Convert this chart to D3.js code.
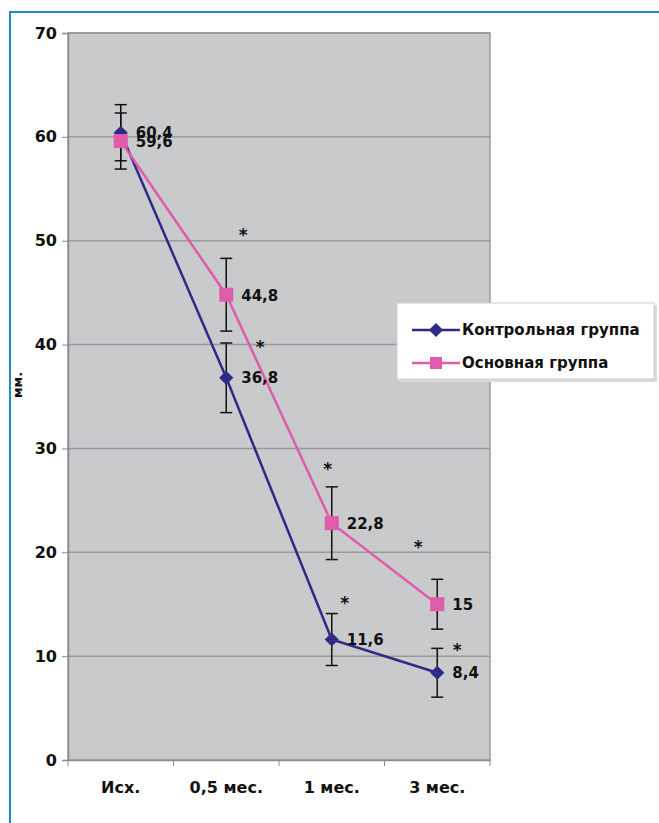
<!DOCTYPE html>
<html>
<head>
<meta charset="utf-8">
<script src="https://cdn.jsdelivr.net/npm/d3@7"></script>
<style>
  * { margin: 0; padding: 0; }
  body { background: #fff; width: 659px; height: 823px; overflow: hidden; }
  svg text { font-family: "DejaVu Sans", sans-serif; font-weight: bold; fill: #111; }
</style>
</head>
<body>
<div id="chart"></div>
<script>
// Categories and series values
const categories = ['Исх.', '0,5 мес.', '1 мес.', '3 мес.'];
const controlValues = [60.4, 36.8, 11.6, 8.4];
const controlErrors = [2.7, 3.35, 2.5, 2.35];
const mainValues = [59.6, 44.8, 22.8, 15];
const mainErrors = [2.7, 3.5, 3.5, 2.4];
const controlLabels = ['60,4', '36,8', '11,6', '8,4'];
const mainLabels = ['59,6', '44,8', '22,8', '15'];
const yTicks = [0, 10, 20, 30, 40, 50, 60, 70];
// significance marks: category index and level (in mm)
const starMain = [[1, 50.8], [2, 28.3], [3, 20.8]];
const starControl = [[1, 40.1], [2, 15.4], [3, 10.9]];
const seriesNames = ['Контрольная группа', 'Основная группа'];

const width = 659, height = 823;
const plotLeft = 68, plotRight = 490, plotTop = 33, plotBottom = 760;
const navy = '#2e2b86', pink = '#df5cab';

const svg = d3.select('#chart').append('svg')
    .attr('width', width)
    .attr('height', height);

// blue frame
svg.append('rect')
    .attr('x', 10).attr('y', 12)
    .attr('width', 720).attr('height', 900)
    .attr('fill', 'none')
    .attr('stroke', '#1b8ecf')
    .attr('stroke-width', 2);

const x = d3.scaleBand().domain(categories).range([plotLeft, plotRight]);
const y = d3.scaleLinear().domain([0, 70]).range([plotBottom, plotTop]);
const cx = i => x(categories[i]) + x.bandwidth() / 2;

// plot background
svg.append('rect')
    .attr('x', plotLeft).attr('y', plotTop)
    .attr('width', plotRight - plotLeft).attr('height', plotBottom - plotTop)
    .attr('fill', '#c9cacc')
    .attr('stroke', '#9a9b9d')
    .attr('stroke-width', 1.5);

// grid
svg.append('g')
    .selectAll('line')
    .data(yTicks.filter(d => d > 0))
    .enter().append('line')
    .attr('x1', plotLeft).attr('x2', plotRight)
    .attr('y1', d => y(d)).attr('y2', d => y(d))
    .attr('stroke', '#98999b')
    .attr('stroke-width', 1.5);

// y axis
const yAxis = d3.axisLeft(y).tickValues(yTicks).tickSize(6).tickPadding(5);
const yg = svg.append('g')
    .attr('transform', 'translate(' + plotLeft + ',0)')
    .call(yAxis);
yg.select('.domain').attr('stroke', '#8a8b8d').attr('stroke-width', 1.5);
yg.selectAll('.tick line').attr('stroke', '#8a8b8d');
yg.selectAll('.tick text').style('font-size', '16px').style('font-family', '"DejaVu Sans", sans-serif').attr('fill', '#111');

// x axis
const xAxis = d3.axisBottom(x).tickSize(0).tickPadding(22);
const xg = svg.append('g')
    .attr('transform', 'translate(0,' + plotBottom + ')')
    .call(xAxis);
xg.select('.domain').attr('stroke', '#8a8b8d').attr('stroke-width', 1.5);
xg.selectAll('.tick text').style('font-size', '16px').style('font-family', '"DejaVu Sans", sans-serif').attr('fill', '#111');
xg.selectAll('.sep')
    .data(d3.range(categories.length + 1))
    .enter().append('line')
    .attr('x1', i => plotLeft + i * x.bandwidth())
    .attr('x2', i => plotLeft + i * x.bandwidth())
    .attr('y1', 0).attr('y2', 6)
    .attr('stroke', '#8a8b8d');

// y title
svg.append('text')
    .attr('transform', 'translate(22,' + 385 + ') rotate(-90)')
    .attr('text-anchor', 'middle')
    .style('font-size', '13px')
    .text('мм.');

function errorBars(values, errors) {
    const g = svg.append('g').attr('stroke', '#111').attr('stroke-width', 1.5);
    values.forEach(function(v, i) {
        const xc = cx(i);
        g.append('line').attr('x1', xc).attr('x2', xc)
            .attr('y1', y(v + errors[i])).attr('y2', y(v - errors[i]));
        [v + errors[i], v - errors[i]].forEach(function(e) {
            g.append('line').attr('x1', xc - 6).attr('x2', xc + 6)
                .attr('y1', y(e)).attr('y2', y(e));
        });
    });
}
errorBars(controlValues, controlErrors);
errorBars(mainValues, mainErrors);

const line = d3.line().x((d, i) => cx(i)).y(d => y(d));

svg.append('path').datum(controlValues)
    .attr('d', line).attr('fill', 'none')
    .attr('stroke', navy).attr('stroke-width', 2.5);
svg.append('path').datum(mainValues)
    .attr('d', line).attr('fill', 'none')
    .attr('stroke', pink).attr('stroke-width', 2.5);

const diamond = d3.symbol().type(d3.symbolSquare).size(100);
svg.selectAll('.ctrl')
    .data(controlValues)
    .enter().append('path')
    .attr('d', diamond)
    .attr('transform', (d, i) => 'translate(' + cx(i) + ',' + y(d) + ') rotate(45)')
    .attr('fill', navy);

svg.selectAll('.main')
    .data(mainValues)
    .enter().append('rect')
    .attr('x', (d, i) => cx(i) - 7).attr('y', d => y(d) - 7)
    .attr('width', 14).attr('height', 14)
    .attr('fill', pink);

// value labels
svg.selectAll('.clab')
    .data(controlValues)
    .enter().append('text')
    .attr('x', (d, i) => cx(i) + 15)
    .attr('y', d => y(d) + 5)
    .style('font-size', '15px')
    .text((d, i) => controlLabels[i]);
svg.selectAll('.mlab')
    .data(mainValues)
    .enter().append('text')
    .attr('x', (d, i) => cx(i) + 15)
    .attr('y', d => y(d) + 6)
    .style('font-size', '15px')
    .text((d, i) => mainLabels[i]);

// asterisks
const starDxMain = [0, 17, -4, -19];
const starDxControl = [0, 34, 13, 20];
svg.selectAll('.smain')
    .data(starMain)
    .enter().append('text')
    .attr('x', d => cx(d[0]) + starDxMain[d[0]])
    .attr('y', d => y(d[1]) + 9)
    .attr('text-anchor', 'middle')
    .style('font-size', '17px')
    .text('*');
svg.selectAll('.sctrl')
    .data(starControl)
    .enter().append('text')
    .attr('x', d => cx(d[0]) + starDxControl[d[0]])
    .attr('y', d => y(d[1]) + 9)
    .attr('text-anchor', 'middle')
    .style('font-size', '17px')
    .text('*');

// legend
const lg = svg.append('g').attr('transform', 'translate(397,303)');
lg.append('rect')
    .attr('x', 2).attr('y', 2).attr('width', 258).attr('height', 77)
    .attr('fill', '#dadada');
lg.append('rect')
    .attr('width', 257).attr('height', 76)
    .attr('fill', '#fff')
    .attr('stroke', '#cfcfcf');
const colors = [navy, pink];
seriesNames.forEach(function(name, i) {
    const ly = 27 + i * 33;
    lg.append('line')
        .attr('x1', 15).attr('x2', 63).attr('y1', ly).attr('y2', ly)
        .attr('stroke', colors[i]).attr('stroke-width', 2.5);
    if (i === 0) {
        lg.append('path').attr('d', diamond)
            .attr('transform', 'translate(39,' + ly + ') rotate(45)')
            .attr('fill', colors[i]);
    } else {
        lg.append('rect').attr('x', 33).attr('y', ly - 6)
            .attr('width', 12).attr('height', 12).attr('fill', colors[i]);
    }
    lg.append('text')
        .attr('x', 65).attr('y', ly + 5)
        .style('font-size', '15px')
        .text(name);
});
</script>
</body>
</html>
